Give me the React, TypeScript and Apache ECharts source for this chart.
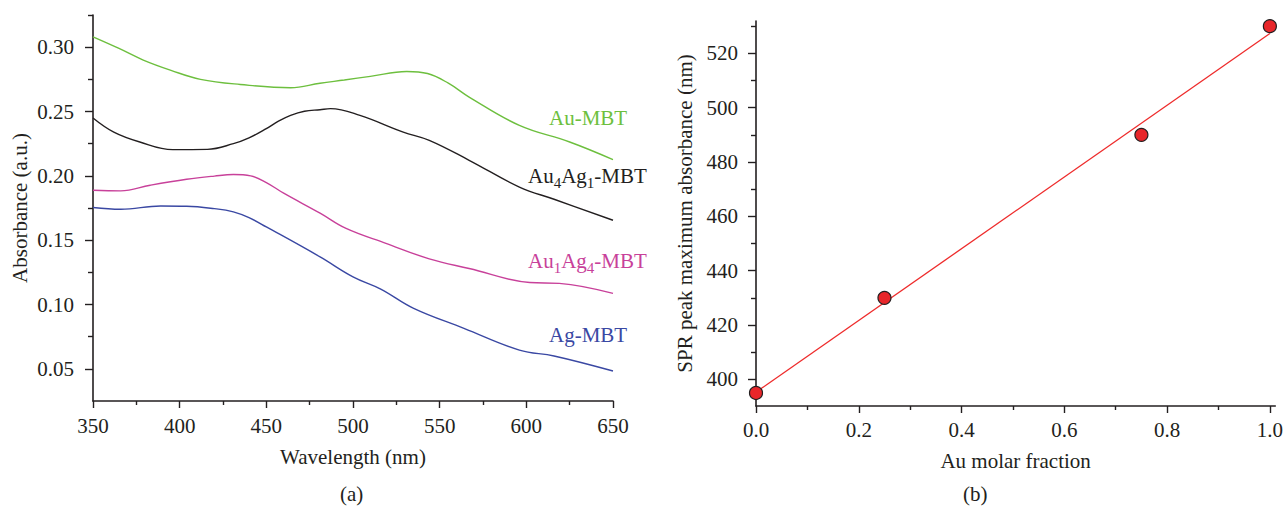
import React, { useEffect, useRef } from "react";
import * as echarts from "echarts";

// ---- Panel (a): UV-vis spectra ----
const auMbtX = [350, 365, 379, 395, 412, 435, 464, 481, 495, 510, 531, 543, 555, 567, 596, 625, 650];
const auMbtY = [0.308, 0.299, 0.290, 0.282, 0.275, 0.271, 0.2685, 0.272, 0.2745, 0.2773, 0.2811, 0.2795, 0.272, 0.2612, 0.2392, 0.2263, 0.2126];

const au4ag1X = [350, 362, 377, 396, 416, 431, 440, 450, 457, 464, 472, 481, 487, 504, 529, 544, 567, 596, 616, 650];
const au4ag1Y = [0.245, 0.234, 0.2263, 0.2204, 0.2206, 0.225, 0.2295, 0.2367, 0.2425, 0.247, 0.2502, 0.2514, 0.2522, 0.247, 0.234, 0.2276, 0.2121, 0.1913, 0.1818, 0.1655];

const au1ag4X = [350, 366, 383, 404, 420, 431, 441, 450, 460, 481, 496, 519, 544, 567, 602, 619, 650];
const au1ag4Y = [0.1888, 0.1883, 0.1927, 0.1973, 0.1998, 0.201, 0.2, 0.1948, 0.1865, 0.171, 0.1591, 0.1475, 0.1355, 0.128, 0.1171, 0.1164, 0.1086];

const agMbtX = [350, 366, 389, 404, 420, 431, 440, 450, 481, 500, 516, 535, 564, 596, 616, 650];
const agMbtY = [0.1754, 0.174, 0.1766, 0.1764, 0.1745, 0.172, 0.1675, 0.1603, 0.137, 0.1215, 0.112, 0.097, 0.0815, 0.0646, 0.06, 0.0483];

const xTicksA = [350, 400, 450, 500, 550, 600, 650];
const xMinorA = [375, 425, 475, 525, 575, 625];
const yTicksA = [0.05, 0.1, 0.15, 0.2, 0.25, 0.3];
const yMinorA = [0.075, 0.125, 0.175, 0.225, 0.275, 0.325];

// ---- Panel (b): SPR peak vs Au fraction ----
const auFraction = [0, 0.25, 0.75, 1.0];
const sprPeak = [395, 430, 490, 530];
const fitX = [0, 1.0];
const fitY = [395.3, 527.3];

const xTicksB = [0, 0.2, 0.4, 0.6, 0.8, 1.0];
const xMinorB = [0.1, 0.3, 0.5, 0.7, 0.9];
const yTicksB = [400, 420, 440, 460, 480, 500, 520];
const yMinorB = [410, 430, 450, 470, 490, 510, 530];

const FONT = "Liberation Serif";
const INK = "#231f20";
const FS = 21;
const SUB = 15;

function pairs(xs: number[], ys: number[]) {
  return xs.map((x, i) => [x, ys[i]]);
}

let canvasCtx: CanvasRenderingContext2D | null = null;
function measure(t: string, font: string): number {
  if (!canvasCtx) canvasCtx = document.createElement("canvas").getContext("2d");
  if (!canvasCtx) return t.length * 10;
  canvasCtx.font = font;
  return canvasCtx.measureText(t).width;
}

// label with subscripts: parts [text, isSub]
function subLabel(x: number, y: number, color: string, parts: [string, boolean][]): any {
  const children: any[] = [];
  let cx = 0;
  parts.forEach(([t, sub]) => {
    const font = `${sub ? SUB : FS}px ${FONT}`;
    children.push({
      type: "text",
      x: cx,
      y: sub ? 7 : 0,
      style: { text: t, fill: color, font, verticalAlign: "middle", align: "left" },
    });
    cx += measure(t, font);
  });
  return { type: "group", x, y, children };
}

export default function App() {
  const ref = useRef<HTMLDivElement>(null);
  useEffect(() => {
    if (!ref.current) return;
    const chart = echarts.init(ref.current, undefined, { renderer: "svg" });

    const axisLine = { show: true, lineStyle: { color: INK, width: 1.6 } };
    const labelStyle = { color: INK, fontFamily: FONT, fontSize: FS };

    const majorAxis = (
      type: "x" | "y",
      gridIndex: number,
      min: number,
      max: number,
      ticks: number[],
      fmt: (v: number) => string,
      name: string,
      nameGap: number,
      margin: number,
      tickLen: number
    ): any => ({
      type: "value",
      gridIndex,
      min,
      max,
      position: type === "x" ? "bottom" : "left",
      axisLine,
      splitLine: { show: false },
      axisTick: { show: true, length: tickLen, customValues: ticks, lineStyle: { color: INK, width: 1.4 } },
      axisLabel: { ...labelStyle, margin, customValues: ticks, formatter: (v: number) => fmt(v) },
      name,
      nameLocation: "middle",
      nameGap,
      nameRotate: type === "y" ? 90 : 0,
      nameTextStyle: { ...labelStyle },
    });

    const minorAxis = (type: "x" | "y", gridIndex: number, min: number, max: number, ticks: number[], tickLen: number): any => ({
      type: "value",
      gridIndex,
      min,
      max,
      position: type === "x" ? "bottom" : "left",
      axisLine: { show: false },
      splitLine: { show: false },
      axisLabel: { show: false },
      axisTick: { show: true, length: tickLen, customValues: ticks, lineStyle: { color: INK, width: 1.4 } },
    });

    const lineSeries = (name: string, xs: number[], ys: number[], color: string): any => ({
      name,
      type: "line",
      xAxisIndex: 0,
      yAxisIndex: 0,
      data: pairs(xs, ys),
      smooth: 0.4,
      showSymbol: false,
      lineStyle: { color, width: 1.4 },
    });

    const option: any = {
      animation: false,
      backgroundColor: "#ffffff",
      grid: [
        { left: 93, top: 15, width: 520, height: 386 },
        { left: 756, top: 21, width: 521, height: 385 },
      ],
      xAxis: [
        majorAxis("x", 0, 350, 650, xTicksA, (v) => String(v), "Wavelength (nm)", 45, 14, 7),
        minorAxis("x", 0, 350, 650, xMinorA, 4),
        majorAxis("x", 1, 0, 1.0105, xTicksB, (v) => v.toFixed(1), "Au molar fraction", 44, 13, 7),
        minorAxis("x", 1, 0, 1.0105, xMinorB, 4),
      ],
      yAxis: [
        majorAxis("y", 0, 0.025, 0.325, yTicksA, (v) => v.toFixed(2), "Absorbance (a.u.)", 63, 19, 8),
        minorAxis("y", 0, 0.025, 0.325, yMinorA, 5),
        majorAxis("y", 1, 390.2, 531.9, yTicksB, (v) => String(v), "SPR peak maximum absorbance (nm)", 61, 18, 8),
        minorAxis("y", 1, 390.2, 531.9, yMinorB, 5),
      ],
      series: [
        lineSeries("Au-MBT", auMbtX, auMbtY, "#6dbf3e"),
        lineSeries("Au4Ag1-MBT", au4ag1X, au4ag1Y, "#231f20"),
        lineSeries("Au1Ag4-MBT", au1ag4X, au1ag4Y, "#c8419a"),
        lineSeries("Ag-MBT", agMbtX, agMbtY, "#3a48a3"),
        { name: "fit", type: "line", xAxisIndex: 2, yAxisIndex: 2, data: pairs(fitX, fitY), showSymbol: false, lineStyle: { color: "#ee2b2b", width: 1.3 }, z: 3 },
        { name: "SPR", type: "scatter", xAxisIndex: 2, yAxisIndex: 2, data: pairs(auFraction, sprPeak), symbol: "circle", symbolSize: 13, clip: false, itemStyle: { color: "#e8262a", borderColor: INK, borderWidth: 1.2, opacity: 1 }, z: 5 },
      ],
      graphic: [
        { type: "text", left: 549, top: 107, style: { text: "Au-MBT", fill: "#6dbf3e", font: `${FS}px ${FONT}` } },
        subLabel(528, 176, "#231f20", [["Au", false], ["4", true], ["Ag", false], ["1", true], ["-MBT", false]]),
        subLabel(528, 261, "#c8419a", [["Au", false], ["1", true], ["Ag", false], ["4", true], ["-MBT", false]]),
        { type: "text", left: 549, top: 324, style: { text: "Ag-MBT", fill: "#3a48a3", font: `${FS}px ${FONT}` } },
        { type: "text", left: 340, top: 483, style: { text: "(a)", fill: INK, font: `${FS}px ${FONT}` } },
        { type: "text", left: 963, top: 483, style: { text: "(b)", fill: INK, font: `${FS}px ${FONT}` } },
      ],
    };
    chart.setOption(option);
    return () => chart.dispose();
  }, []);

  return <div ref={ref} style={{ position: "fixed", left: 0, top: 0, width: 1286, height: 509 }} />;
}
